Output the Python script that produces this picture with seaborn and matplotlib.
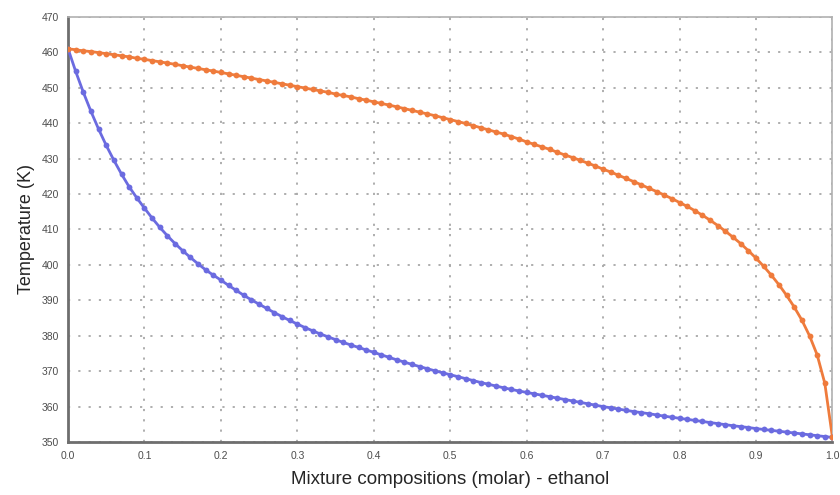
import numpy as np
import pandas as pd
import seaborn as sns
import matplotlib.pyplot as plt
from matplotlib.ticker import MultipleLocator

# liquid mole fraction of ethanol, step 0.01
x_ethanol = [round(i * 0.01, 2) for i in range(101)]

# bubble-point curve (K)
t_bubble = [
    461.0, 454.6, 448.7, 443.3, 438.3, 433.7, 429.5, 425.6, 422.0, 418.9,
    416.0, 413.2, 410.6, 408.2, 406.0, 404.0, 402.1, 400.3, 398.6, 397.1,
    395.7, 394.2, 392.8, 391.4, 390.1, 388.9, 387.7, 386.5, 385.4, 384.3,
    383.3, 382.3, 381.4, 380.5, 379.7, 378.9, 378.1, 377.4, 376.7, 376.0,
    375.3, 374.6, 373.9, 373.2, 372.55, 371.9, 371.3, 370.7, 370.1, 369.55,
    369.0, 368.45, 367.9, 367.35, 366.8, 366.3, 365.8, 365.3, 364.85, 364.4,
    364.0, 363.6, 363.2, 362.8, 362.4, 362.0, 361.6, 361.2, 360.8, 360.4,
    360.0, 359.65, 359.3, 358.95, 358.6, 358.3, 358.0, 357.65, 357.3, 357.0,
    356.7, 356.4, 356.1, 355.8, 355.5, 355.2, 354.9, 354.6, 354.35, 354.1,
    353.8, 353.55, 353.3, 353.05, 352.8, 352.55, 352.3, 352.05, 351.8, 351.55,
    351.3,
]

# dew-point curve (K)
t_dew = [
    461.0, 460.7, 460.4, 460.2, 459.9, 459.6, 459.3, 459.0, 458.7, 458.3,
    458.0, 457.65, 457.3, 456.95, 456.6, 456.2, 455.8, 455.45, 455.05, 454.7,
    454.3, 453.9, 453.5, 453.1, 452.7, 452.3, 451.9, 451.5, 451.1, 450.7,
    450.3, 449.9, 449.5, 449.1, 448.7, 448.2, 447.8, 447.4, 446.9, 446.5,
    446.0, 445.55, 445.1, 444.6, 444.1, 443.6, 443.1, 442.6, 442.1, 441.55,
    441.0, 440.45, 439.9, 439.3, 438.7, 438.1, 437.5, 436.9, 436.2, 435.5,
    434.7, 434.0, 433.3, 432.6, 431.8, 431.0, 430.3, 429.5, 428.7, 427.9,
    427.0, 426.2, 425.3, 424.4, 423.5, 422.6, 421.6, 420.7, 419.7, 418.7,
    417.6, 416.5, 415.3, 414.0, 412.6, 411.1, 409.5, 407.8, 406.0, 404.0,
    401.9, 399.6, 397.1, 394.4, 391.4, 388.1, 384.4, 380.0, 374.6, 366.6,
    351.3,
]

BLUE = "#6b6be0"
ORANGE = "#ef7b3c"


def plot():
    sns.set_style("white")
    plt.rcParams["font.family"] = ["Liberation Sans", "DejaVu Sans"]

    df = pd.DataFrame({"x": x_ethanol, "bubble": t_bubble, "dew": t_dew})

    fig = plt.figure(figsize=(8.4, 4.95), dpi=100)
    ax = fig.add_axes([0.081, 0.107, 0.91, 0.859])

    sns.lineplot(data=df, x="x", y="bubble", ax=ax, color=BLUE, lw=2.0,
                 marker="o", markersize=4.2, markeredgewidth=0, zorder=3)
    sns.lineplot(data=df, x="x", y="dew", ax=ax, color=ORANGE, lw=2.0,
                 marker="o", markersize=4.2, markeredgewidth=0, zorder=4)

    ax.set_xlim(0, 1)
    ax.set_ylim(350, 470)
    ax.xaxis.set_major_locator(MultipleLocator(0.1))
    ax.xaxis.set_minor_locator(MultipleLocator(0.05))
    ax.yaxis.set_major_locator(MultipleLocator(10))
    ax.yaxis.set_minor_locator(MultipleLocator(5))
    ax.xaxis.set_major_formatter(plt.FuncFormatter(lambda v, p: f"{v:.1f}"))
    ax.yaxis.set_major_formatter(plt.FuncFormatter(lambda v, p: f"{v:.0f}"))

    ax.grid(True, which="major", linestyle=(0, (1.2, 4.5)), color="#a8a8a8", lw=1.3)
    ax.tick_params(which="both", direction="inout", color="#666666",
                   labelcolor="#4d4d4d", labelsize=7.5, width=1.2)
    ax.tick_params(which="major", length=6)
    ax.tick_params(which="minor", length=5)

    for side in ["left", "bottom"]:
        ax.spines[side].set_color("#6e6e6e")
        ax.spines[side].set_linewidth(2.0)
    for side in ["top", "right"]:
        ax.spines[side].set_color("#b0b0b0")
        ax.spines[side].set_linewidth(1.2)

    ax.set_xlabel("Mixture compositions (molar) - ethanol", fontsize=13.5, labelpad=7)
    ax.set_ylabel("Temperature (K)", fontsize=13, labelpad=5)

    plt.savefig("out.png", dpi=100)


if __name__ == "__main__":
    plot()
